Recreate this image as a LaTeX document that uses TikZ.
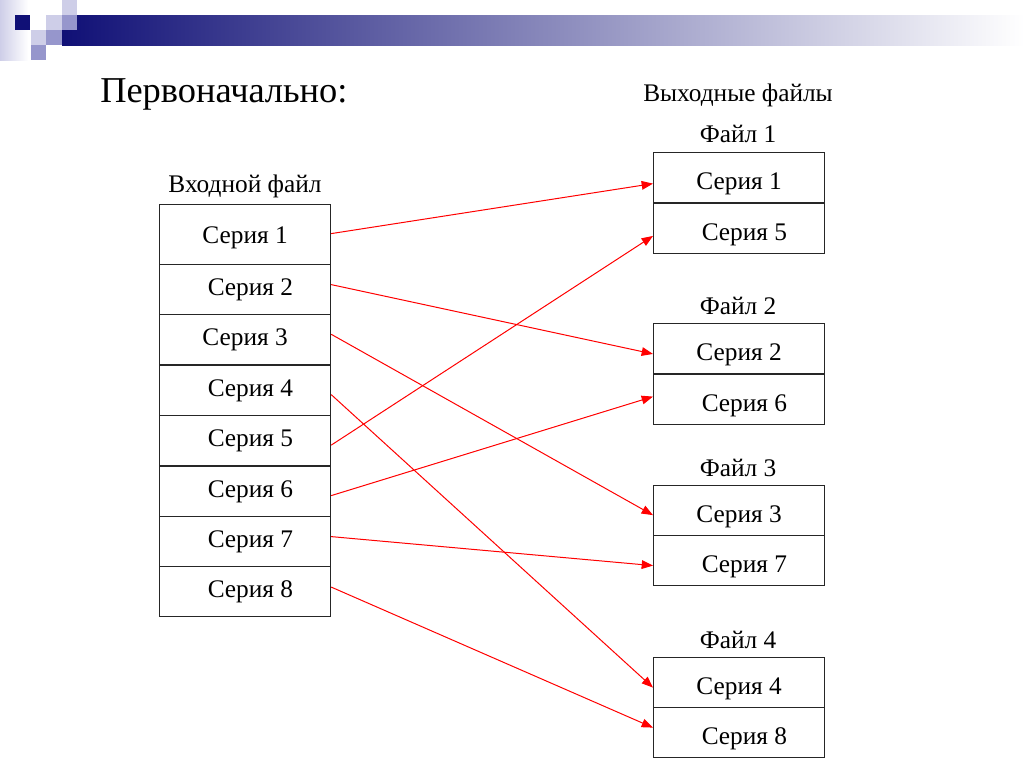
\documentclass[tikz,border=0pt]{standalone}
\usepackage{fontspec}
\setmainfont{Liberation Serif}
\usepackage{tikz}
\usetikzlibrary{arrows.meta}

\definecolor{navy}{RGB}{16,16,118}
\definecolor{lavlight}{RGB}{206,206,232}
\definecolor{lavmid}{RGB}{150,150,204}
\definecolor{barmid}{RGB}{165,165,188}

\tikzset{
	row/.style={draw=black!85, line width=0.9pt, anchor=north west, minimum width=128.25pt, minimum height=37.5pt, inner sep=0pt, font=\fontsize{19}{22}\selectfont},
	outrow/.style={row, text height=22pt, text depth=4pt},
	caption/.style={inner sep=0pt, font=\fontsize{19}{22}\selectfont},
	link/.style={draw=red, line width=0.75pt, -{Triangle[length=8.5pt,width=6.5pt]}}
}

\begin{document}
\begin{tikzpicture}[x=0.75pt, y=-0.75pt]
\useasboundingbox (0,0) rectangle (1024,768);
\fill[white] (0,0) rectangle (1024,768);

% title bar
\shade[left color=lavlight, right color=white] (0,0) rectangle (28,60);
\shade[left color=navy, middle color=barmid, right color=white] (62,15) rectangle (1024,45);
\fill[navy] (15,15) rectangle (30,30);
\fill[lavlight] (62,0) rectangle (77,15);
\fill[lavlight] (46,15) rectangle (62,30);
\fill[lavmid] (62,15) rectangle (77,30);
\fill[lavlight] (31,30) rectangle (46,45);
\fill[lavmid] (46,30) rectangle (62,45);
\fill[lavmid] (31,45) rectangle (46,60);

\node[anchor=base west, inner sep=0pt, font=\fontsize{27.3}{32}\selectfont] (title) at (100,102) {Первоначально:};

% input file
\node[caption] (incap) at (245,186) {Входной файл};
\node[row, minimum height=45pt, text height=17pt, text depth=4pt] (in1) at (159,204) {Серия 1};
\node[row] (in2) at (159,264) {\hspace*{8pt}Серия 2};
\node[row] (in3) at (159,314) {Серия 3};
\node[row] (in4) at (159,365) {\hspace*{8pt}Серия 4};
\node[row] (in5) at (159,415) {\hspace*{8pt}Серия 5};
\node[row] (in6) at (159,466) {\hspace*{8pt}Серия 6};
\node[row] (in7) at (159,516) {\hspace*{8pt}Серия 7};
\node[row] (in8) at (159,566) {\hspace*{8pt}Серия 8};

% output files
\node[caption] (outcap) at (738,95) {Выходные файлы};
\node[caption] (cap1) at (738,134) {Файл 1};
\node[outrow] (f1a) at (653,152) {Серия 1};
\node[outrow] (f1b) at (653,203) {\hspace*{8pt}Серия 5};
\node[caption] (cap2) at (738,306) {Файл 2};
\node[outrow] (f2a) at (653,323) {Серия 2};
\node[outrow] (f2b) at (653,374) {\hspace*{8pt}Серия 6};
\node[caption] (cap3) at (738,468) {Файл 3};
\node[outrow] (f3a) at (653,485) {Серия 3};
\node[outrow] (f3b) at (653,535) {\hspace*{8pt}Серия 7};
\node[caption] (cap4) at (738,640) {Файл 4};
\node[outrow] (f4a) at (653,657) {Серия 4};
\node[outrow] (f4b) at (653,707) {\hspace*{8pt}Серия 8};

% distribution
\draw[link] ([yshift=0.75pt]in1.east) -- ([yshift=-4.5pt]f1a.west);
\draw[link] ([yshift=3.75pt]in2.east) -- ([yshift=-4pt]f2a.west);
\draw[link] ([yshift=4pt]in3.east) -- ([yshift=-3.4pt]f3a.west);
\draw[link] ([yshift=-3pt]in4.east) -- ([yshift=-3.75pt]f4a.west);
\draw[link] ([yshift=-3.4pt]in5.east) -- ([yshift=-5.5pt]f1b.west);
\draw[link] ([yshift=-3pt]in6.east) -- ([yshift=2.25pt]f2b.west);
\draw[link] ([yshift=3.75pt]in7.east) -- ([yshift=-3.75pt]f3b.west);
\draw[link] ([yshift=3.4pt]in8.east) -- ([yshift=3.75pt]f4b.west);
\end{tikzpicture}
\end{document}
